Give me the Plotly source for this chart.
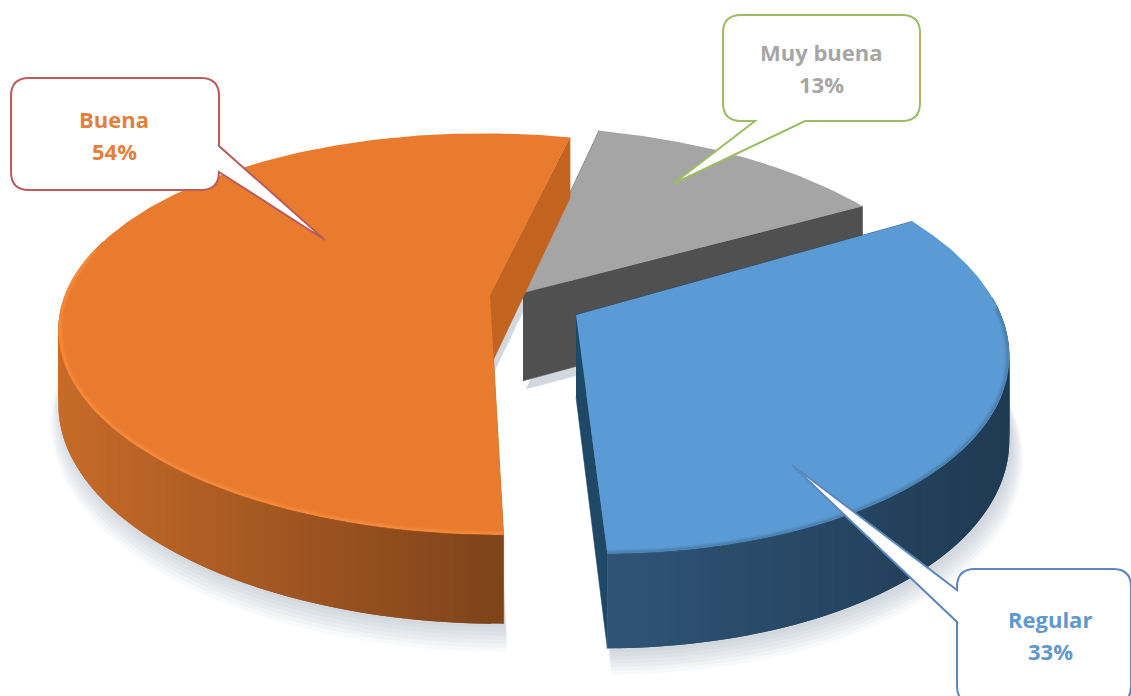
import numpy as np
import plotly.graph_objects as go

# ---- data ----
categories = ["Muy buena", "Regular", "Buena"]
values = [13, 33, 54]

# ---- styling ----
top_colors = ["#A5A5A5", "#5B9BD5", "#E97B2F"]
text_colors = ["#A6A6A6", "#5F98CF", "#E2803D"]
cut_colors = ["#505050", "#1F4766", "#C2641F"]
wall_left = ["#4F4F4F", "#2F5476", "#C76B29"]
wall_right = ["#4F4F4F", "#1F3A52", "#7E431A"]
bevel_colors = ["#A5A5A5", "#4A7FAE", "#F88C3A"]
apexes = [(523, 293), (576, 315), (490, 295)]
heights = [1.22, 1.135, 1.0]
persp = [0.14, 0.14, 0.194]
depth = [190.0, 205.0, 193.0]
shears = [17.0, 24.0, 8.0]
START = 14.0
FX, FZ = 425.0, 72.0
W, H = 1131, 696


def project(i, th_deg, r=1.0, z=0.0):
    t = np.radians(th_deg)
    X, Y = r * np.sin(t), r * np.cos(t)
    w = 1 + persp[i] * Y
    ax, ay = apexes[i]
    return ax + (FX * X - shears[i] * Y) / w, ay - depth[i] * Y / w + FZ * z / w


def mix(a, b, f):
    ca = [int(a[i:i + 2], 16) for i in (1, 3, 5)]
    cb = [int(b[i:i + 2], 16) for i in (1, 3, 5)]
    return "#%02x%02x%02x" % tuple(round(x + (y - x) * f) for x, y in zip(ca, cb))


fig = go.Figure()


def poly(xs, ys, color, line=0.0):
    fig.add_trace(go.Scatter(x=list(xs), y=list(ys), mode="lines", fill="toself",
                             fillcolor=color, line=dict(color=color, width=line),
                             hoverinfo="skip", showlegend=False))


def stroke(xs, ys, color, width):
    fig.add_trace(go.Scatter(x=list(xs), y=list(ys), mode="lines",
                             line=dict(color=color, width=width),
                             hoverinfo="skip", showlegend=False))


# slice angle spans follow the values
spans = []
a = START
total = sum(values)
for v in values:
    spans.append((a, a + 360 * v / total))
    a += 360 * v / total

# soft shadows below every slice
for i in range(len(values)):
    th = np.linspace(*spans[i], 90)
    for step in range(7):
        grow = 1 + 0.004 * step
        xs, ys = project(i, th, r=grow, z=heights[i] + 0.03 * step)
        xs = np.r_[apexes[i][0], xs]
        ys = np.r_[apexes[i][1] + FZ * heights[i] * 1.05, ys]
        poly(xs + 3, ys + 4, "rgba(120,135,150,0.05)")

# draw slices back to front
for i in [0, 2, 1]:
    s0, s1 = spans[i]
    h = heights[i]
    # cut faces
    for edge in (s0, s1):
        rx, ry = project(i, edge)
        bx, by = project(i, edge, z=h)
        abx, aby = project(i, edge, r=0, z=h)
        ax0, ay0 = apexes[i]
        poly([ax0, rx, bx, abx], [ay0, ry, by, aby], cut_colors[i], 0.6)
    # outer wall: only the part that faces the viewer, left to right with overlap
    lo, hi = max(s0, 85), min(s1, 270)
    if i == 2:
        lo, hi = s0, 287
    edges = np.linspace(lo, hi, 80) if hi > lo else []
    xmin, xmax = (60, 505) if i == 2 else (605, 1012)
    n = len(edges)
    order = range(n - 2, -1, -1) if i == 2 else range(n - 1)
    for j in order:
        e0, e1 = edges[j], edges[min(j + 2, n - 1)]
        if i != 2:
            e0, e1 = edges[max(j - 1, 0)], edges[j + 1]
        x0, y0 = project(i, e0)
        x1, y1 = project(i, e1)
        x2, y2 = project(i, e1, z=h)
        x3, y3 = project(i, e0, z=h)
        f = np.clip(((x0 + x1) / 2 - xmin) / (xmax - xmin), 0, 1)
        poly([x0, x1, x2, x3], [y0, y1, y2, y3], mix(wall_left[i], wall_right[i], f))
    # top face
    th = np.linspace(s0, s1, 240)
    xs, ys = project(i, th)
    poly(np.r_[apexes[i][0], xs], np.r_[apexes[i][1], ys], top_colors[i])
    # soft rim along the visible edge
    if i > 0:
        lo2, hi2 = (88, s1) if i == 1 else (s0, 284)
        th2 = np.linspace(lo2, hi2, 120)
        col = bevel_colors[i]
        rgb = (int(col[1:3], 16), int(col[3:5], 16), int(col[5:7], 16))
        for width, rr, alpha in [(5, 0.995, 0.25), (3, 0.996, 0.45), (1.5, 0.997, 0.7)]:
            xs, ys = project(i, th2, r=rr)
            stroke(xs, ys, "rgba(%d,%d,%d,%.2f)" % (*rgb, alpha), width)


# ---- callouts ----
def callout(x0, y0, x1, y1, r, pointer, color):
    mid = bottom = left = ""
    if pointer["side"] == "right":
        mid = f"L{x1},{pointer['a']} L{pointer['tx']},{pointer['ty']} L{x1},{pointer['b']} "
    elif pointer["side"] == "bottom":
        bottom = f"L{pointer['b']},{y1} L{pointer['tx']},{pointer['ty']} L{pointer['a']},{y1} "
    else:
        left = f"L{x0},{pointer['b']} L{pointer['tx']},{pointer['ty']} L{x0},{pointer['a']} "
    path = (f"M{x0 + r},{y0} L{x1 - r},{y0} Q{x1},{y0} {x1},{y0 + r} {mid}"
            f"L{x1},{y1 - r} Q{x1},{y1} {x1 - r},{y1} {bottom}"
            f"L{x0 + r},{y1} Q{x0},{y1} {x0},{y1 - r} {left}"
            f"L{x0},{y0 + r} Q{x0},{y0} {x0 + r},{y0} Z")
    fig.add_shape(type="path", path=path, xref="x", yref="y", fillcolor="white",
                  line=dict(color=color, width=2), layer="above")


callout(723, 15, 920, 121, 18, dict(side="bottom", a=755, b=805, tx=673, ty=184), "#9DBB61")
callout(957, 569, 1131, 704, 18, dict(side="left", a=590, b=622, tx=792, ty=465), "#5B87BD")
callout(11, 78, 219, 190, 18, dict(side="right", a=146, b=172, tx=325, ty=240), "#BC5B5B")

label_pos = [(821, 52), (1050, 619), (114, 119)]
annotations = []
for name, v, (lx, ly), col in zip(categories, values, label_pos, text_colors):
    for text, dy in ((name, 0), (f"{v}%", 32)):
        annotations.append(dict(x=lx, y=ly + dy, xref="x", yref="y", text=f"<b>{text}</b>",
                                showarrow=False, xanchor="center", yanchor="middle",
                                font=dict(family="Open Sans", size=22, color=col)))

fig.update_layout(width=W, height=H, margin=dict(l=0, r=0, t=0, b=0),
                  paper_bgcolor="white", plot_bgcolor="white", showlegend=False,
                  annotations=annotations,
                  xaxis=dict(range=[0, W], visible=False, fixedrange=True),
                  yaxis=dict(range=[H, 0], visible=False, fixedrange=True))

fig.write_html("out.html", config=dict(displayModeBar=False),
               post_script="document.body.style.margin='0';document.body.style.overflow='hidden';")
